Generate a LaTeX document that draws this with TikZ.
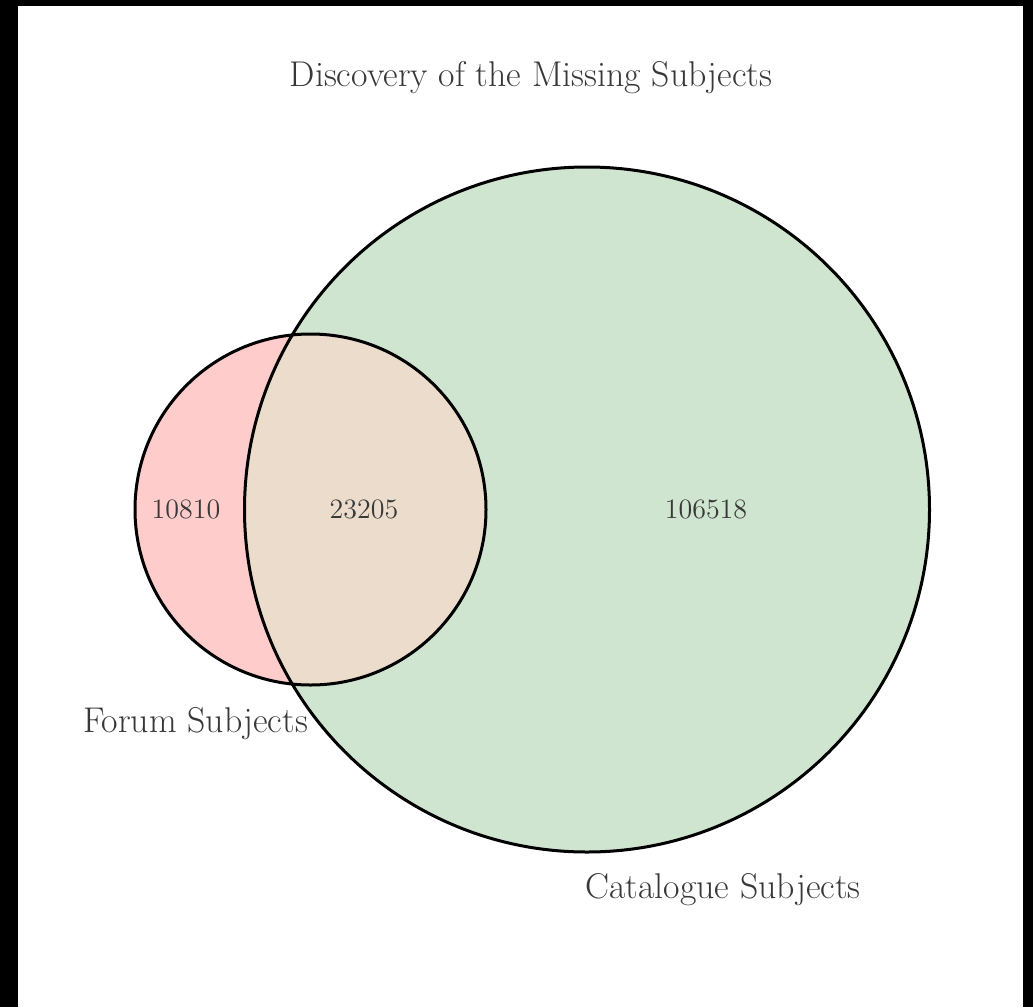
\documentclass[tikz,border=0pt]{standalone}
\begin{document}
\begin{tikzpicture}[x=0.5pt,y=-0.5pt,
  settxt/.style={text=black!78, inner sep=0pt},
  ring/.style={draw=black, line width=1.5pt}]
\definecolor{forumfill}{HTML}{FFCCCC}
\definecolor{catfill}{HTML}{CFE5CF}
\definecolor{bothfill}{HTML}{EBDCCB}
\useasboundingbox (0,0) rectangle (1033,1007);
% frame bands
\fill[black] (0,0) rectangle (18,1007);
\fill[black] (0,0) rectangle (1033,6);
\fill[black] (1023,0) rectangle (1033,1007);
% set regions
\fill[forumfill] (310.5,509.5) circle[radius=175.5];
\fill[catfill] (587,509.5) circle[radius=342.5];
\begin{scope}
  \clip (310.5,509.5) circle[radius=175.5];
  \fill[bothfill] (587,509.5) circle[radius=342.5];
\end{scope}
\draw[ring] (310.5,509.5) circle[radius=175.5];
\draw[ring] (587,509.5) circle[radius=342.5];
% labels
\node[settxt, font=\fontsize{17.9}{21}\selectfont] (title) at (531,78) {Discovery of the Missing Subjects};
\node[settxt, font=\fontsize{14}{17}\selectfont] (onlyforum) at (186,509) {10810};
\node[settxt, font=\fontsize{14}{17}\selectfont] (both) at (364,509) {23205};
\node[settxt, font=\fontsize{14}{17}\selectfont] (onlycat) at (706,509) {106518};
\node[settxt, font=\fontsize{17.9}{21}\selectfont] (forum) at (195.5,724) {Forum Subjects};
\node[settxt, font=\fontsize{17.9}{21}\selectfont] (catalogue) at (723,890) {Catalogue Subjects};
\end{tikzpicture}
\end{document}
